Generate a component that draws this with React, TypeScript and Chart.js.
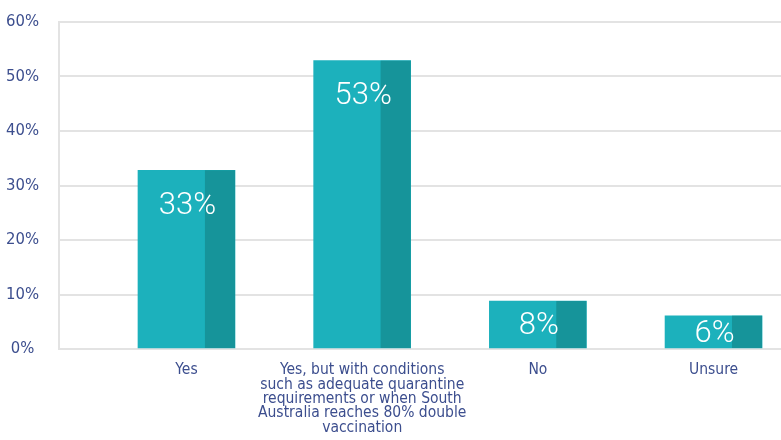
import React, { useEffect, useRef } from "react";
import { Chart, registerables } from "chart.js";

Chart.register(...registerables);

const CATEGORIES: string[][] = [
  ["Yes"],
  [
    "Yes, but with conditions",
    "such as adequate quarantine",
    "requirements or when South",
    "Australia reaches 80% double",
    "vaccination",
  ],
  ["No"],
  ["Unsure"],
];
const VALUES: number[] = [32.8, 52.9, 8.8, 6.1];
const VALUE_LABELS: string[] = ["33%", "53%", "8%", "6%"];
const Y_TICKS: number[] = [0, 10, 20, 30, 40, 50, 60];

const LIGHT = "#1cb1bc";
const DARK = "#16949a";
const TEXT = "#3c4e8e";
const GRID = "#e3e3e3";
const FONT = "'Liberation Sans Narrow', 'DejaVu Sans Condensed', 'Roboto', sans-serif";

const barDecor = {
  id: "barDecor",
  afterDatasetsDraw(chart: any) {
    const ctx = chart.ctx;
    const meta = chart.getDatasetMeta(0);
    meta.data.forEach((el: any, i: number) => {
      const { x, y, base, width } = el.getProps(["x", "y", "base", "width"], true);
      const right = x + width / 2;
      const darkW = width * 0.31;
      ctx.save();
      ctx.fillStyle = DARK;
      ctx.fillRect(right - darkW, y, darkW, base - y);
      ctx.fillStyle = "#ffffff";
      ctx.font = "300 31px Roboto, sans-serif";
      ctx.textAlign = "center";
      ctx.textBaseline = "middle";
      const ty = Math.min(y + 34, (y + base) / 2) + 2;
      ctx.fillText(VALUE_LABELS[i], x + 1, ty);
      ctx.restore();
    });
  },
};

export default function App() {
  const ref = useRef<HTMLCanvasElement | null>(null);
  useEffect(() => {
    if (!ref.current) return;
    const chart = new Chart(ref.current, {
      type: "bar",
      data: {
        datasets: [
          {
            data: VALUES.map((v, i) => ({ x: i, y: v })),
            backgroundColor: LIGHT,
            barThickness: 97,
            borderWidth: 0,
          },
        ],
      },
      options: {
        animation: false,
        responsive: false,
        maintainAspectRatio: false,
        layout: { padding: { top: 22, right: 0, left: 0, bottom: 0 } },
        plugins: { legend: { display: false }, tooltip: { enabled: false } },
        scales: {
          x: {
            type: "linear",
            min: -0.7257,
            max: 3.384,
            offset: false,
            grid: { display: false, drawTicks: false },
            border: { display: false },
            afterBuildTicks: (scale: any) => {
              scale.ticks = CATEGORIES.map((_, i) => ({ value: i }));
            },
            afterFit: (scale: any) => {
              scale.height = 91;
              scale.paddingTop = 0;
              scale.paddingBottom = 0;
              scale.paddingLeft = 0;
              scale.paddingRight = 0;
            },
            ticks: {
              autoSkip: false,
              maxRotation: 0,
              padding: 14,
              color: TEXT,
              font: { family: FONT, size: 15.5, lineHeight: "14.4px" as any },
              callback: (v: any) => CATEGORIES[v as number] ?? "",
            },
          },
          y: {
            min: 0,
            max: 60,
            afterBuildTicks: (scale: any) => {
              scale.ticks = Y_TICKS.map((v) => ({ value: v }));
            },
            afterFit: (scale: any) => {
              scale.width = 59;
              scale.paddingTop = 0;
              scale.paddingBottom = 0;
            },
            grid: { color: GRID, lineWidth: 2, drawTicks: false },
            border: { display: true, color: GRID, width: 2 },
            ticks: {
              crossAlign: "center",
              padding: 20,
              color: TEXT,
              font: { family: FONT, size: 16.5 },
              callback: (v: any) => v + "%",
            },
          },
        },
      },
      plugins: [barDecor],
    });
    return () => chart.destroy();
  }, []);
  return (
    <div style={{ position: "fixed", left: 0, top: 0, width: 781, height: 440, background: "#fff" }}>
      <canvas ref={ref} width={781} height={440} style={{ width: 781, height: 440 }} />
    </div>
  );
}
